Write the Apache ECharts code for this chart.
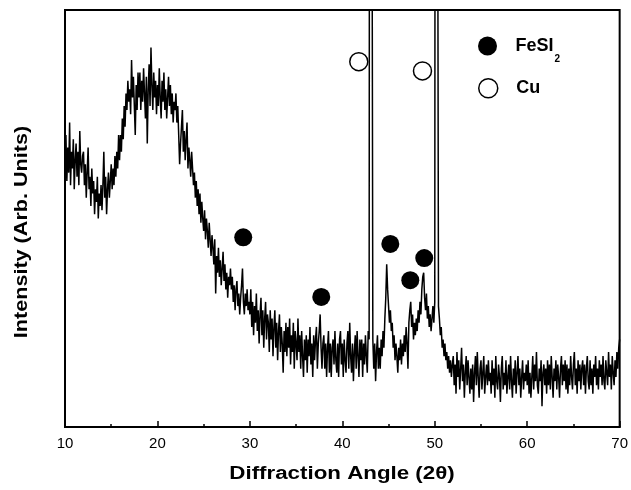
<!DOCTYPE html>
<html>
<head>
<meta charset="utf-8">
<script src="https://cdn.jsdelivr.net/npm/echarts@6/dist/echarts.min.js"></script>
<style>
  html, body { margin: 0; padding: 0; background: #fff; }
  #chart { width: 631px; height: 490px; }
</style>
</head>
<body>
<div id="chart"></div>
<script>
// XRD scan: 2θ from 10° to 70° in 0.1° steps
const startAngle = 10;
const angleStep = 0.1;

// Measured intensity (arbitrary units), one row per 2° of scan.
// The two Cu reflections saturate the detector (400 = off scale).
const intensity = [
  64, 70, 59, 67, 61, 73, 58, 66, 62, 69, 57, 64, 68, 60, 66, 58, 71, 63, 61, 65,   // 10
  66, 58, 63, 55, 61, 67, 57, 60, 53, 62, 56, 59, 51, 57, 54, 60, 50, 56, 53, 58,   // 12
  52, 58, 66, 55, 60, 51, 57, 61, 55, 59, 63, 57, 62, 58, 65, 60, 66, 62, 70, 64,   // 14
  70, 66, 74, 69, 77, 72, 80, 76, 83, 78, 81, 75, 88, 79, 84, 77, 70, 82, 76, 85,   // 16
  79, 85, 76, 83, 78, 86, 80, 74, 84, 68, 81, 87, 77, 91, 82, 76, 85, 79, 83, 75,   // 18
  82, 77, 86, 79, 74, 83, 78, 85, 76, 81, 74, 79, 84, 77, 82, 75, 80, 73, 78, 76,   // 20
  80, 73, 77, 70, 63, 68, 72, 76, 66, 71, 64, 69, 73, 62, 67, 64, 60, 66, 62, 58,   // 22
  61, 55, 59, 53, 57, 51, 56, 49, 54, 50, 47, 52, 45, 50, 47, 43, 49, 45, 41, 46,   // 24
  43, 39, 45, 32, 41, 37, 43, 36, 40, 34, 38, 42, 35, 39, 33, 37, 31, 36, 34, 38,   // 26
  33, 36, 30, 34, 28, 33, 35, 29, 32, 27, 31, 34, 38, 30, 27, 32, 29, 33, 28, 30,   // 28
  27, 33, 24, 30, 22, 29, 25, 32, 23, 28, 20, 27, 31, 22, 28, 19, 26, 30, 21, 27,   // 30
  25, 18, 28, 21, 26, 17, 24, 28, 19, 25, 16, 23, 27, 18, 24, 20, 13, 23, 18, 25,   // 32
  17, 24, 19, 26, 15, 22, 18, 25, 14, 23, 20, 16, 26, 18, 22, 14, 23, 17, 12, 21,   // 34
  16, 22, 13, 21, 17, 24, 15, 20, 12, 22, 16, 21, 24, 14, 20, 23, 27, 19, 14, 20,   // 36
  22, 14, 20, 12, 19, 23, 13, 20, 12, 19, 21, 15, 23, 16, 13, 20, 12, 21, 23, 15,   // 38
  20, 12, 21, 16, 13, 20, 23, 14, 25, 17, 13, 20, 11, 18, 22, 14, 23, 17, 12, 21,   // 40
  16, 21, 12, 20, 15, 22, 17, 13, 23, 21, 400, 400, 400, 21, 14, 20, 11, 18, 22, 14, // 42
  19, 14, 21, 17, 23, 19, 26, 31, 39, 33, 29, 25, 28, 23, 25, 19, 22, 16, 20, 17,   // 44
  13, 19, 16, 21, 15, 20, 17, 22, 18, 24, 20, 14, 25, 28, 30, 24, 27, 21, 25, 22,   // 46
  26, 23, 28, 25, 30, 27, 33, 36, 37, 31, 28, 32, 26, 29, 24, 27, 23, 26, 29, 25,   // 48
  30, 400, 400, 400, 29, 26, 22, 24, 19, 21, 17, 20, 16, 18, 14, 17, 13, 16, 12, 15, // 50
  17, 10, 15, 8, 18, 12, 16, 9, 14, 19, 11, 15, 7, 13, 17, 10, 16, 12, 8, 14,       // 52
  9, 15, 6, 13, 17, 10, 18, 12, 7, 14, 16, 9, 13, 17, 8, 12, 15, 10, 16, 11,        // 54
  13, 8, 16, 10, 14, 7, 17, 11, 9, 15, 12, 6, 14, 17, 9, 13, 10, 16, 8, 12,         // 56
  15, 9, 17, 11, 7, 14, 10, 16, 8, 13, 17, 10, 14, 7, 12, 16, 9, 13, 11, 15,        // 58
  10, 16, 8, 13, 7, 12, 17, 9, 15, 11, 18, 10, 8, 14, 11, 16, 5, 13, 15, 10,        // 60
  14, 8, 16, 10, 15, 9, 17, 12, 7, 14, 11, 16, 9, 15, 12, 7, 14, 17, 10, 15,        // 62
  11, 16, 9, 15, 8, 14, 10, 17, 12, 9, 15, 18, 10, 14, 8, 16, 11, 15, 9, 14,        // 64
  16, 10, 15, 8, 14, 17, 11, 9, 16, 10, 14, 8, 15, 12, 17, 10, 14, 9, 16, 12,       // 66
  15, 10, 17, 11, 9, 16, 13, 10, 18, 12, 15, 9, 17, 13, 10, 16, 12, 18, 14, 19,     // 68
  21                                                                                 // 70
];

// Peak markers: [2θ, height]
const fesi2Marks = [[29.28, 45.5], [37.72, 31.2], [45.19, 43.9], [47.35, 35.2], [48.86, 40.5]];
const cuMarks = [[41.78, 87.6], [48.67, 85.4]];

const xTicks = [10, 20, 30, 40, 50, 60, 70];

const scan = intensity.map((v, i) => [+(startAngle + i * angleStep).toFixed(1), v]);

const FONT = '"Liberation Sans", Arial, Helvetica, sans-serif';

const chart = echarts.init(document.getElementById('chart'), null, { renderer: 'canvas' });
chart.setOption({
  animation: false,
  backgroundColor: '#fff',
  grid: {
    left: 65, right: 9, top: 10, bottom: 63,
    show: true, borderColor: '#000', borderWidth: 2, backgroundColor: 'transparent'
  },
  xAxis: {
    type: 'value',
    min: xTicks[0], max: xTicks[xTicks.length - 1], interval: 10,
    axisLine: { lineStyle: { color: '#000', width: 2 } },
    axisTick: { inside: true, length: 6, lineStyle: { color: '#000', width: 1.5 } },
    minorTick: { show: true, splitNumber: 2, length: 3, lineStyle: { color: '#000', width: 1.5 } },
    axisLabel: { color: '#000', fontSize: 15, fontFamily: FONT, margin: 9 },
    splitLine: { show: false },
    minorSplitLine: { show: false }
  },
  yAxis: {
    type: 'value', min: 0, max: 100,
    axisLine: { show: true, lineStyle: { color: '#000', width: 2 } },
    axisTick: { show: false },
    axisLabel: { show: false },
    splitLine: { show: false }
  },
  legend: [
    {
      data: ['FeSI2'], left: 478, top: 28, padding: 0, orient: 'vertical',
      icon: 'circle', itemWidth: 46, itemHeight: 19,
      itemStyle: { color: '#000', borderWidth: 0, opacity: 1 },
      formatter: () => '{m|FeSI}{s|2}',
      textStyle: {
        color: '#000',
        rich: {
          m: { fontSize: 18, fontWeight: 'bold', fontFamily: FONT, lineHeight: 20, verticalAlign: 'middle', color: '#000' },
          s: { fontSize: 10, fontWeight: 'bold', fontFamily: FONT, lineHeight: 10, padding: [26, 0, 0, 1], color: '#000' }
        }
      }
    },
    {
      data: ['Cu'], left: 478, top: 78, padding: 0, orient: 'vertical',
      icon: 'circle', itemWidth: 46, itemHeight: 19,
      itemStyle: { color: '#fff', borderColor: '#000', borderWidth: 1.5, opacity: 1 },
      formatter: () => '{m|Cu}',
      textStyle: {
        color: '#000',
        rich: {
          m: { fontSize: 18, fontWeight: 'bold', fontFamily: FONT, lineHeight: 20, color: '#000' }
        }
      }
    }
  ],
  graphic: [
    {
      type: 'text', x: 342, y: 474, scaleX: 1.24,
      style: {
        text: 'Diffraction Angle (2θ)', font: 'bold 18px ' + FONT, fill: '#000',
        align: 'center', verticalAlign: 'middle', textAlign: 'center', textVerticalAlign: 'middle'
      }
    },
    {
      type: 'text', x: 22, y: 232, rotation: Math.PI / 2, scaleX: 1.2,
      style: {
        text: 'Intensity (Arb. Units)', font: 'bold 18px ' + FONT, fill: '#000',
        align: 'center', verticalAlign: 'middle', textAlign: 'center', textVerticalAlign: 'middle'
      }
    }
  ],
  series: [
    {
      name: 'scan', type: 'line', data: scan, symbol: 'none', clip: true,
      lineStyle: { color: '#000', width: 1.5 }, z: 2
    },
    {
      name: 'FeSI2', type: 'scatter', data: fesi2Marks, symbol: 'circle', symbolSize: 18,
      itemStyle: { color: '#000', opacity: 1 }, z: 3
    },
    {
      name: 'Cu', type: 'scatter', data: cuMarks, symbol: 'circle', symbolSize: 18,
      itemStyle: { color: '#fff', borderColor: '#000', borderWidth: 1.5, opacity: 1 }, z: 3
    }
  ]
});
</script>
</body>
</html>
